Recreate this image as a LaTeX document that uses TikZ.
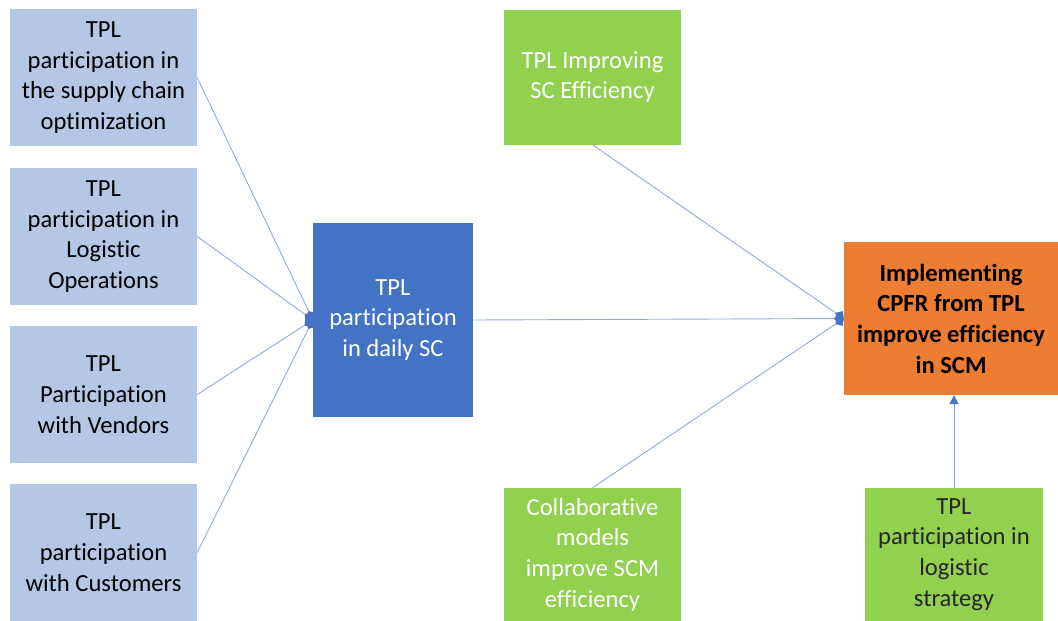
\documentclass[tikz,border=0pt]{standalone}
\usepackage{fontspec}
\setmainfont{Carlito}[Ligatures=NoCommon]
\usetikzlibrary{arrows.meta}
\definecolor{lblue}{HTML}{B4C7E7}
\definecolor{dblue}{HTML}{4472C4}
\definecolor{lgreen}{HTML}{92D050}
\definecolor{orng}{HTML}{ED7D31}
\definecolor{lineblue}{HTML}{8FAADC}
\tikzset{
  box/.style={rectangle, inner sep=0pt, align=center, font=\fontsize{24.6}{30.7}\selectfont},
  lbox/.style={box, fill=lblue, text=black, minimum width=187pt, minimum height=137pt},
  bbox/.style={box, fill=dblue, text=white, minimum width=160pt, minimum height=194pt},
  gbox/.style={box, fill=lgreen, text=white, minimum width=177pt, minimum height=135pt},
  obox/.style={box, fill=orng, text=black, minimum width=214pt, minimum height=153pt, font=\fontsize{24.6}{30.7}\selectfont\bfseries},
  conn/.style={draw=lineblue, line width=0.9pt},
  dtip/.style={conn, -{Kite[length=10pt,width=11pt,inset=5pt,color=dblue,fill=dblue]}},
  ttip/.style={conn, -{Triangle[length=9pt,width=9pt,color=dblue,fill=dblue]}}
}
\begin{document}
\begin{tikzpicture}[x=1pt,y=-1pt]
\useasboundingbox (0,0) rectangle (1058,621);
\node[lbox] (l1) at (103.5,77.5) {TPL\\participation in\\the supply chain\\optimization};
\node[lbox] (l2) at (103.5,236.5) {TPL\\participation in\\Logistic\\Operations};
\node[lbox] (l3) at (103.5,394.5) {TPL\\Participation\\with Vendors};
\node[lbox] (l4) at (103.5,552.5) {TPL\\participation\\with Customers};
\node[bbox] (b) at (393,320) {TPL\\participation\\in daily SC};
\node[gbox] (gt) at (592.5,77) {TPL Improving\\SC Efficiency};
\node[gbox, minimum height=133pt] (gb) at (592.5,554.5) {Collaborative\\models\\improve SCM\\efficiency};
\node[gbox, minimum width=178pt, minimum height=133pt, text=black!85] (gr) at (954,554.5) {TPL\\participation in\\logistic\\strategy};
\node[obox] (o) at (951,318.5) {Implementing\\CPFR from TPL\\improve efficiency\\in SCM};
\draw[dtip] (l1.east) -- (b.west);
\draw[dtip] (l2.east) -- (b.west);
\draw[dtip] (l3.east) -- (b.west);
\draw[dtip] (l4.east) -- (b.west);
\draw[dtip] (b.east) -- (o.west);
\draw[dtip] (gt.south) -- (o.west);
\draw[dtip] (gb.north) -- (o.west);
\draw[ttip] (gr.north) -- (gr.north |- o.south);
\end{tikzpicture}
\end{document}
